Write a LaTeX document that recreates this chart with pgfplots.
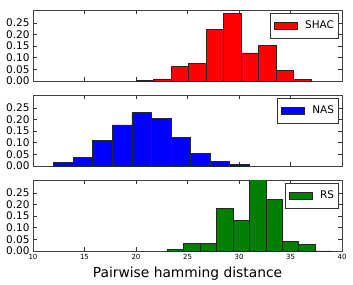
\documentclass[border=0pt]{standalone}
\usepackage{fontspec}
\setmainfont{DejaVu Sans}
\usepackage{pgfplots}
\pgfplotsset{compat=1.18}
\usepgfplotslibrary{groupplots}
\definecolor{mplgreen}{RGB}{0,128,0}
\pgfplotstableread{
x y
20 0.004
21.7 0.009
23.4 0.062
25.1 0.075
26.8 0.223
28.5 0.292
30.2 0.121
31.9 0.152
33.6 0.047
35.3 0.007
37 0.007
}\shac
\pgfplotstableread{
x y
12 0.017
13.9 0.037
15.8 0.111
17.7 0.177
19.6 0.229
21.5 0.206
23.4 0.124
25.3 0.055
27.2 0.021
29.1 0.006
31 0.006
}\nas
\pgfplotstableread{
x y
23 0.006
24.6 0.032
26.2 0.032
27.8 0.184
29.4 0.133
31 0.320
32.6 0.223
34.2 0.041
35.8 0.028
37.4 0.001
39 0.001
}\rs
\pgfplotsset{
 patchlegend/.style={legend image code/.code={
   \path[draw=none,fill=none] (-2pt,-4pt) rectangle (29pt,4pt);
   \draw[fill=#1, draw=black!85, line width=0.5pt] (0pt,-3.9pt) rectangle (23pt,3.9pt);}}
}
\begin{document}
\begin{tikzpicture}
\begin{groupplot}[
 group style={group size=1 by 3, vertical sep=14pt, xticklabels at=edge bottom},
 scale only axis, width=309pt, height=71pt,
 xmin=10, xmax=40, ymin=0, ymax=0.305,
 xtick={10,15,20,25,30,35,40},
 ytick={0,0.05,0.1,0.15,0.2,0.25},
 /pgf/number format/assume math mode=true,
 yticklabel style={/pgf/number format/fixed,/pgf/number format/fixed zerofill,/pgf/number format/precision=2, font=\fontsize{10.5}{12}\selectfont},
 xticklabel style={font=\fontsize{7}{8}\selectfont},
 scaled y ticks=false,
 tick align=inside, major tick length=4pt,
 every tick/.style={black!80, line width=0.5pt},
 axis line style={black!75, line width=0.8pt},
 legend style={at={(0.987,0.955)}, anchor=north east, draw=black!80, line width=0.6pt,
   font=\fontsize{10.5}{12}\selectfont, inner xsep=2pt, inner ysep=6pt, outer sep=0pt},
 legend cell align=left,
]
\nextgroupplot
\addplot[ybar interval, fill=red, draw=black!85, line width=0.5pt, patchlegend=red] table[x=x,y=y] {\shac};
\addlegendentry{SHAC}
\nextgroupplot
\addplot[ybar interval, fill=blue, draw=black!85, line width=0.5pt, patchlegend=blue] table[x=x,y=y] {\nas};
\addlegendentry{NAS}
\nextgroupplot[xlabel={Pairwise hamming distance}, xlabel style={font=\fontsize{13.8}{15}\selectfont}]
\addplot[ybar interval, fill=mplgreen, draw=black!85, line width=0.5pt, patchlegend=mplgreen] table[x=x,y=y] {\rs};
\addlegendentry{RS}
\end{groupplot}
\path ([xshift=-33pt,yshift=10pt]group c1r1.north west) rectangle ([xshift=11pt,yshift=-33pt]group c1r3.south east);
\end{tikzpicture}
\end{document}
